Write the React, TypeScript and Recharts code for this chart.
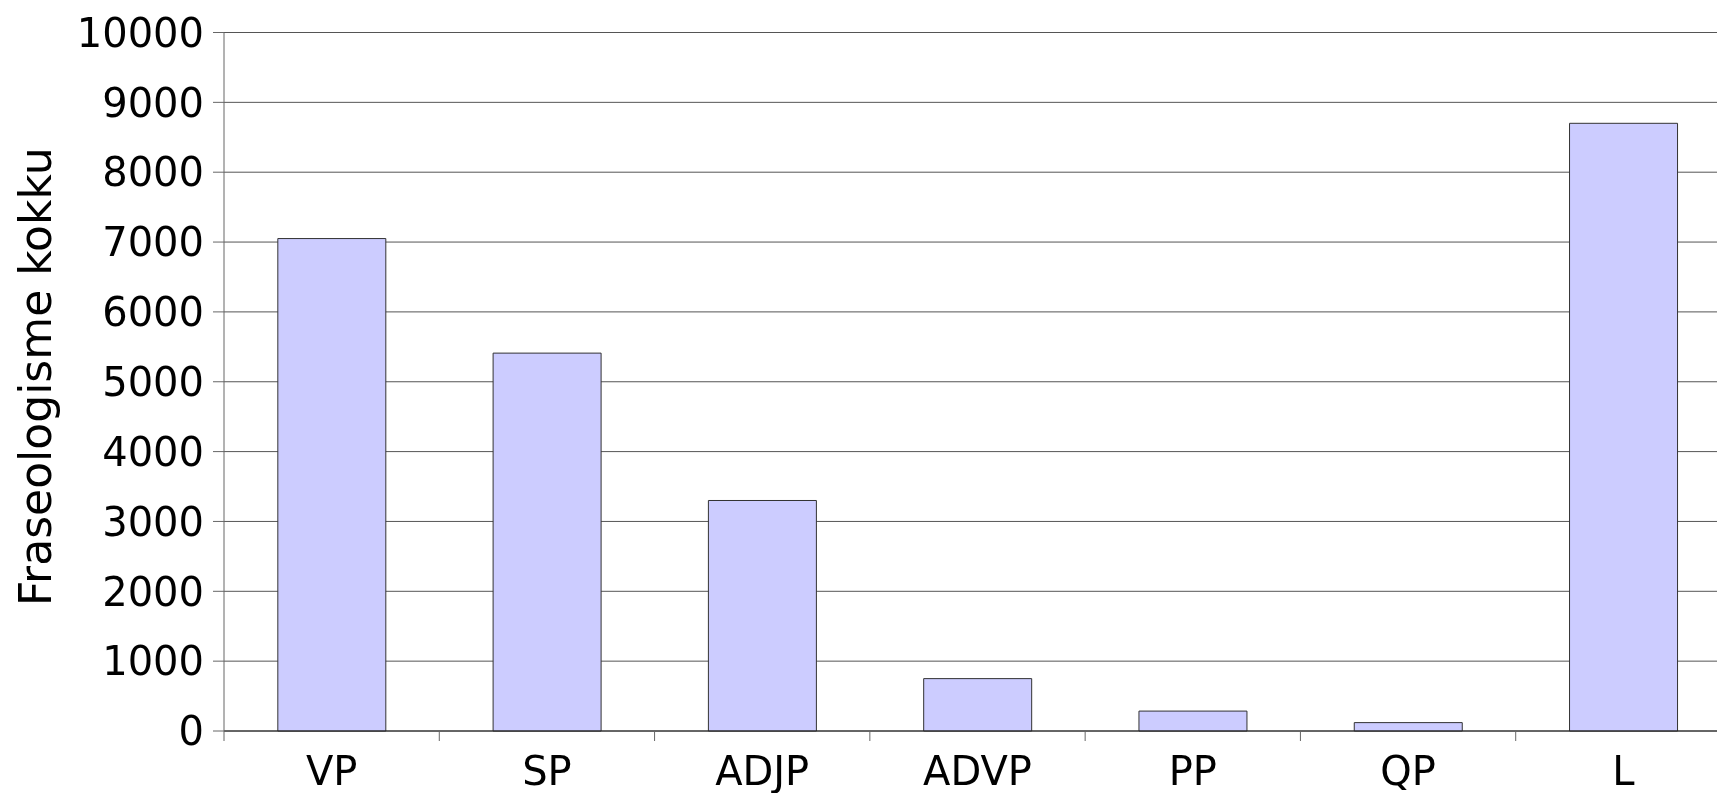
import { BarChart, Bar, XAxis, YAxis, CartesianGrid } from "recharts";

const categories = ["VP", "SP", "ADJP", "ADVP", "PP", "QP", "L"];
const counts = [7050, 5410, 3300, 750, 285, 120, 8700];
const yTicks = [0, 1000, 2000, 3000, 4000, 5000, 6000, 7000, 8000, 9000, 10000];

const data = categories.map((name, i) => ({ name, value: counts[i] }));

// category label plus a tick mark on the left edge of each band (and the right edge of the last)
const CategoryTick = (props: any) => {
  const { x, y, payload, index } = props;
  const half = payload.offset || 0;
  const isLast = index === categories.length - 1;
  return (
    <g>
      <line x1={x - half} y1={y} x2={x - half} y2={y + 10} stroke="#666" />
      {isLast && (
        <line x1={x + half} y1={y} x2={x + half} y2={y + 10} stroke="#666" />
      )}
      <text
        x={x}
        y={y + 26}
        dy="0.71em"
        textAnchor="middle"
        fontSize={40}
        fill="#000"
      >
        {payload.value}
      </text>
    </g>
  );
};

export default function App() {
  return (
    <div
      style={{
        position: "fixed",
        left: 0,
        top: 0,
        width: 1717,
        height: 793,
        overflow: "hidden",
        fontFamily: "'DejaVu Sans', sans-serif",
      }}
    >
      <div style={{ marginLeft: 8, marginTop: 8 }}>
        <BarChart
          width={1740}
          height={840}
          data={data}
          margin={{ top: 24.5, right: 17, left: 0, bottom: 0 }}
          barCategoryGap="25%"
        >
          <CartesianGrid vertical={false} stroke="#555" />
          <XAxis
            dataKey="name"
            height={117}
            tickLine={false}
            tickSize={0}
            tickMargin={0}
            axisLine={{ stroke: "#222" }}
            tick={<CategoryTick />}
            interval={0}
          />
          <YAxis
            width={216}
            domain={[0, 10000]}
            ticks={yTicks}
            tickSize={11}
            tickMargin={9}
            stroke="#666"
            tick={{ fontSize: 40, fill: "#000" }}
            label={{
              value: "Fraseologisme kokku",
              angle: -90,
              position: "insideLeft",
              offset: 27,
              dy: -5,
              style: { textAnchor: "middle", fontSize: 44, fill: "#000" },
            }}
          />
          <Bar
            dataKey="value"
            fill="#ccccff"
            stroke="#333"
            strokeWidth={1}
            isAnimationActive={false}
          />
        </BarChart>
      </div>
    </div>
  );
}
